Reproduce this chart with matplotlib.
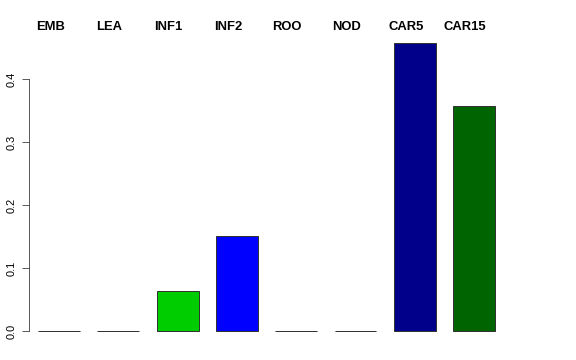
import matplotlib
matplotlib.use("Agg")
import matplotlib.pyplot as plt

categories = ["EMB", "LEA", "INF1", "INF2", "ROO", "NOD", "CAR5", "CAR15"]
values = [0.0, 0.0, 0.064, 0.151, 0.0, 0.0, 0.457, 0.357]
colors = ["#FFFFFF", "#FFFFFF", "#00CD00", "#0000FF", "#FFFFFF", "#FFFFFF", "#00008B", "#006400"]
yticks = [0.0, 0.1, 0.2, 0.3, 0.4]
ytick_labels = ["0.0", "0.1", "0.2", "0.3", "0.4"]

plt.rcParams['font.family'] = ['Liberation Sans', 'DejaVu Sans']

fig = plt.figure(figsize=(8, 5), dpi=72)
ax = fig.add_axes([29/576, 0, 1 - 29/576, 1])
x = list(range(len(categories)))
ax.bar(x, values, width=0.708, color=colors, edgecolor="#333333", linewidth=1)

ax.set_xlim((29 - 59) / 59.3, (576 - 59) / 59.3)
ax.set_ylim((331 - 360) / 630, 331 / 630)

for s in ["top", "right", "bottom"]:
    ax.spines[s].set_visible(False)
ax.spines["left"].set_bounds(0, 0.4)
ax.spines["left"].set_color("#333333")
ax.set_xticks([])
ax.set_yticks(yticks)
ax.set_yticklabels(ytick_labels, rotation=90, va="center", fontsize=11)
ax.tick_params(axis="y", length=7, pad=5, color="#333333")

for xi, name in zip(x, categories):
    ax.text(xi - 0.15, (331 - 27) / 630, name, ha="center", va="center",
            fontsize=13, fontweight="bold")

fig.savefig("out.png", dpi=72)
